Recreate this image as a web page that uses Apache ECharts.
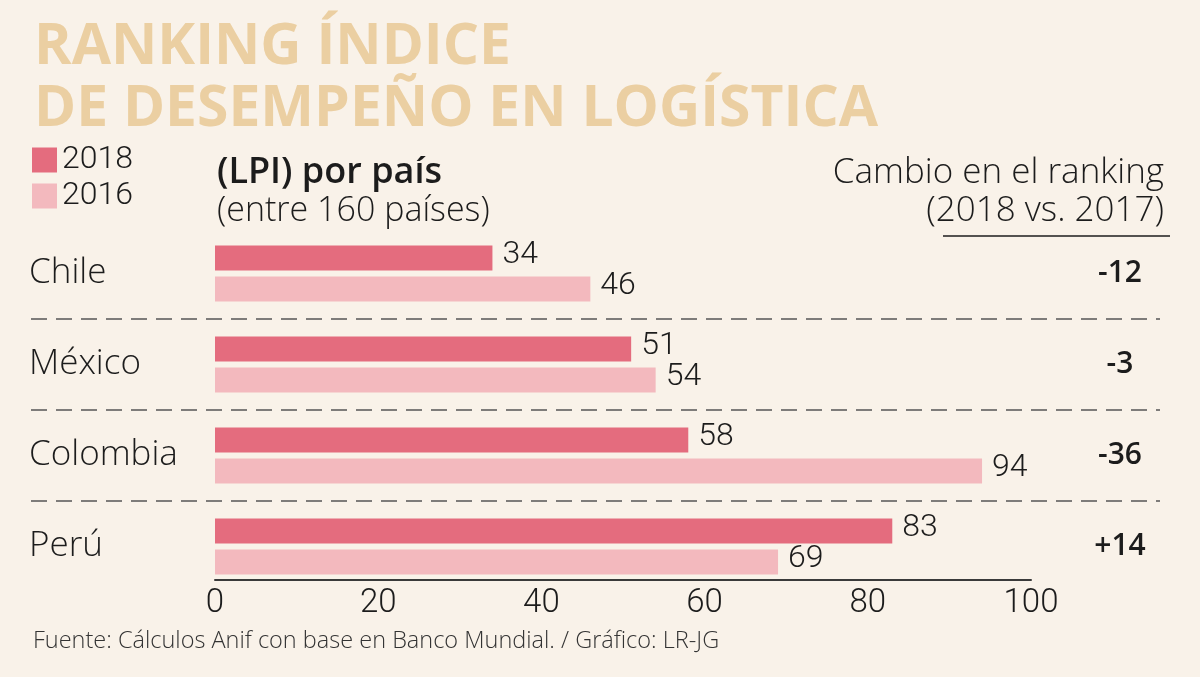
<!DOCTYPE html>
<html>
<head>
<meta charset="utf-8">
<script src="https://cdn.jsdelivr.net/npm/echarts@6/dist/echarts.min.js"></script>
<style>
  html, body { margin: 0; padding: 0; background: #f9f2e9; }
  #main { width: 1200px; height: 677px; }
</style>
</head>
<body>
<div id="main"></div>
<script>
// datos del gráfico
var countries = ['Chile', 'México', 'Colombia', 'Perú'];
var rank2018 = [34, 51, 58, 83];
var rank2016 = [46, 54, 94, 69];
var changes = ['-12', '-3', '-36', '+14'];
var seriesNames = ['2018', '2016'];

var thin = 'Roboto, "Open Sans", sans-serif';
var light = '"Open Sans", "Noto Sans", sans-serif';
var ink = '#1c1c1c';

var chart = echarts.init(document.getElementById('main'));

var valueLabel = {
  show: true, position: 'right', distance: 10, offset: [0, -3],
  fontFamily: thin, fontWeight: 300, fontSize: 32, color: ink
};

var option = {
  backgroundColor: '#f9f2e9',
  animation: false,
  color: ['#e46c7e', '#f3b9be'],
  title: [
    {
      text: 'RANKING ÍNDICE\nDE DESEMPEÑO EN LOGÍSTICA',
      left: 29, top: 12,
      textStyle: { fontFamily: light, fontWeight: 'bold', fontSize: 57, lineHeight: 62, color: '#ebcfa2' }
    },
    {
      text: '(LPI) por país',
      left: 212, top: 150,
      textStyle: { fontFamily: light, fontWeight: 600, fontSize: 36, color: ink }
    },
    {
      text: '(entre 160 países)',
      left: 212, top: 189,
      textStyle: { fontFamily: light, fontWeight: 300, fontSize: 34, color: ink }
    },
    {
      text: 'Cambio en el ranking',
      right: 31, top: 151,
      textStyle: { fontFamily: light, fontWeight: 300, fontSize: 35, color: ink }
    },
    {
      text: '(2018 vs. 2017)',
      right: 31, top: 189,
      textStyle: { fontFamily: light, fontWeight: 300, fontSize: 35, color: ink }
    },
    {
      text: 'Fuente: Cálculos Anif con base en Banco Mundial. / Gráfico: LR-JG',
      left: 28, top: 624,
      textStyle: { fontFamily: light, fontWeight: 300, fontSize: 23.5, color: '#333' }
    }
  ],
  legend: {
    data: seriesNames,
    orient: 'vertical',
    left: 32, top: 142,
    padding: 0,
    icon: 'rect',
    itemWidth: 25, itemHeight: 25, itemGap: 0,
    textStyle: { fontFamily: thin, fontWeight: 300, fontSize: 32, lineHeight: 36, color: ink }
  },
  graphic: [
    {
      type: 'line',
      shape: { x1: 943, y1: 236, x2: 1170, y2: 236 },
      style: { stroke: ink, lineWidth: 1.5 }
    }
  ],
  grid: [
    { left: 215, right: 169, top: 228, height: 364 },
    { left: 31, right: 40, top: 228, height: 364 }
  ],
  xAxis: [
    {
      gridIndex: 0, type: 'value', min: 0, max: 100, interval: 20,
      offset: -12,
      axisLine: { show: true, lineStyle: { color: '#3a3a3a', width: 2 } },
      axisTick: { show: false },
      splitLine: { show: false },
      axisLabel: { fontFamily: thin, fontWeight: 300, fontSize: 33, color: ink, margin: 7 }
    },
    { gridIndex: 1, type: 'value', show: false }
  ],
  yAxis: [
    {
      gridIndex: 0, type: 'category', data: countries, inverse: true,
      axisLine: { show: false }, axisTick: { show: false },
      axisLabel: {
        align: 'left', margin: 186,
        fontFamily: light, fontWeight: 300, fontSize: 35, color: ink,
        padding: [0, 0, 10, 0]
      }
    },
    {
      gridIndex: 0, type: 'category', data: changes, inverse: true, position: 'right',
      axisLine: { show: false }, axisTick: { show: false },
      axisLabel: {
        align: 'center', margin: 89,
        fontFamily: light, fontWeight: 600, fontSize: 30, color: ink,
        padding: [0, 0, 4, 0]
      }
    },
    {
      gridIndex: 1, type: 'value', min: 0, max: 4, interval: 1, inverse: true,
      axisLine: { show: false }, axisTick: { show: false }, axisLabel: { show: false },
      splitLine: {
        show: true, showMinLine: false, showMaxLine: false,
        lineStyle: { color: '#555', width: 1.5, type: [16, 9] }
      }
    }
  ],
  series: [
    {
      name: seriesNames[0], type: 'bar', xAxisIndex: 0, yAxisIndex: 0,
      data: rank2018, barWidth: 25, barGap: '24%',
      label: valueLabel
    },
    {
      name: seriesNames[1], type: 'bar', xAxisIndex: 0, yAxisIndex: 0,
      data: rank2016, barWidth: 25,
      label: valueLabel
    }
  ]
};

chart.setOption(option);
</script>
</body>
</html>
